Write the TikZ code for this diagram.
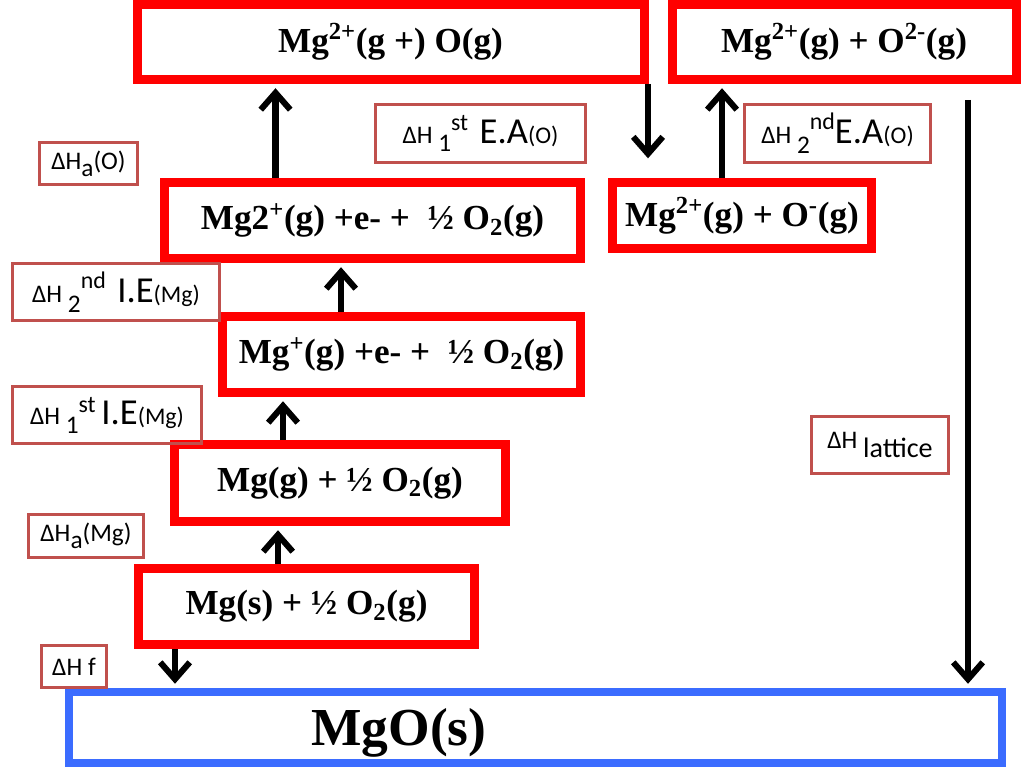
\documentclass[tikz,border=0pt]{standalone}
\usepackage{fontspec}
\setmainfont{Liberation Serif}
\newfontfamily\labelfont{Carlito}
\usetikzlibrary{arrows.meta}
\definecolor{boxred}{RGB}{255,0,0}
\definecolor{labred}{RGB}{192,80,77}
\definecolor{boxblue}{RGB}{59,108,255}
\newcommand\lbig{\fontsize{26}{30}\selectfont}
\newcommand\lsml{\fontsize{17}{20}\selectfont}
\begin{document}
\begin{tikzpicture}[x=0.025cm,y=-0.025cm,
  sz/.style 2 args={minimum width=#1*0.025cm,minimum height=#2*0.025cm},
  stage/.style={draw=boxred,line width=6.4pt,inner sep=0pt,font=\bfseries\fontsize{25}{29}\selectfont},
  dh/.style={draw=labred,line width=2.1pt,inner sep=0pt,font=\labelfont\fontsize{18}{21}\selectfont},
  arr/.style={line width=4.3pt,-{Straight Barb[length=12pt,width=21pt]},shorten >=3pt}]
  \useasboundingbox (0,0) rectangle (1024,767);

  \node[stage,sz={507}{75}] (atoms) at (390.5,42) {Mg\textsuperscript{2+}(g +) O(g)};
  \node[stage,sz={344}{75}] (ions) at (844,42) {Mg\textsuperscript{2+}(g) + O\textsuperscript{2-}(g)};
  \node[stage,sz={416}{76}] (secondie) at (372.5,220.5) {Mg2\textsuperscript{+}(g) +e- +\ \ ½ O\textsubscript{2}(g)};
  \node[stage,sz={259}{66}] (oneion) at (742,215.5) {Mg\textsuperscript{2+}(g) + O\textsuperscript{-}(g)};
  \node[stage,sz={358}{76}] (firstie) at (401.5,354.5) {Mg\textsuperscript{+}(g) +e- +\ \ ½ O\textsubscript{2}(g)};
  \node[stage,sz={331}{77}] (gas) at (340,483) {Mg(g) + ½ O\textsubscript{2}(g)};
  \node[stage,sz={336}{76}] (solid) at (306.5,606.5) {Mg(s) + ½ O\textsubscript{2}(g)};
  \node[draw=boxblue,line width=5.7pt,sz={933}{71}] (mgo) at (535.5,727.5) {};
  \node[font=\bfseries\fontsize{38}{43}\selectfont] (mgotext) at (399,733) {MgO(s)};

  \node[dh,sz={98}{42}] (hao) at (88.5,163.5) {ΔH\raisebox{-5pt}{a}(O)};
  \node[dh,sz={210}{58}] (ea1) at (480.5,133.5) {ΔH \raisebox{-6pt}{1}\raisebox{9pt}{\lsml st}\ \ {\lbig E.A}{\lsml(O)}};
  \node[dh,sz={186}{58}] (ea2) at (837.5,133.5) {ΔH \raisebox{-7pt}{2}\raisebox{10pt}{\lsml nd}{\lbig E.A}{\lsml(O)}};
  \node[dh,sz={207}{57}] (ie2) at (116,292) {ΔH \raisebox{-7pt}{2}\raisebox{10pt}{\lsml nd}\ \ {\lbig I.E}{\lsml(Mg)}};
  \node[dh,sz={189}{57}] (ie1) at (107,415) {ΔH \raisebox{-6pt}{1}\raisebox{9pt}{\lsml st} {\lbig I.E}{\lsml(Mg)}};
  \node[dh,sz={137}{57}] (lat) at (880,445) {ΔH \raisebox{-7pt}{\fontsize{20}{24}\selectfont lattice}};
  \node[dh,sz={115}{43}] (ham) at (86,536) {ΔH\raisebox{-5pt}{a}(Mg)};
  \node[dh,sz={65}{42}] (hf) at (74,666.5) {ΔH f};

  \draw[arr] (secondie.north -| 275.5,0) -- (atoms.south -| 275.5,0);
  \draw[arr] (firstie.north -| 341,0) -- (secondie.south -| 341,0);
  \draw[arr] (gas.north -| 283,0) -- (firstie.south -| 283,0);
  \draw[arr] (solid.north -| 278,0) -- (gas.south -| 278,0);
  \draw[arr] (solid.south -| 175,0) -- (mgo.north -| 175,0);
  \draw[arr,shorten >=14pt] (atoms.south -| 648,0) -- (oneion.north -| 648,0);
  \draw[arr] (oneion.north -| 722,0) -- (ions.south -| 722,0);
  \coordinate (latstart) at (968,100);
  \draw[arr] (latstart) -- (mgo.north -| latstart);
\end{tikzpicture}
\end{document}
